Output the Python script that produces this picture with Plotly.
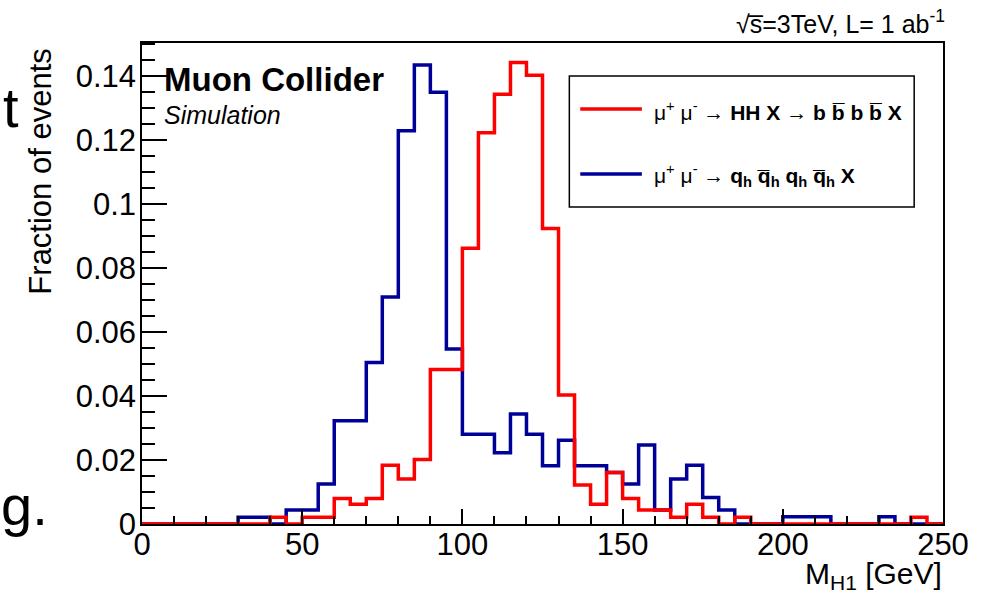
import plotly.graph_objects as go

# Histogram data: fraction of events per 5 GeV bin of M_H1, 0-250 GeV
BIN_WIDTH = 5
bin_edges = list(range(0, 250 + BIN_WIDTH, BIN_WIDTH))

hh_bbbb = [
    0, 0, 0, 0, 0, 0, 0, 0,                      # 0-40
    0.0021, 0, 0.0021, 0.0021,                   # 40-60
    0.008, 0.0062, 0.008, 0.0184,                # 60-80
    0.0141, 0.0202, 0.0483, 0.0483,              # 80-100
    0.0862, 0.1223, 0.1344, 0.1443,              # 100-120
    0.1403, 0.0924, 0.0403, 0.0122,              # 120-140
    0.0062, 0.0161, 0.008, 0.0044,               # 140-160
    0.0044, 0.0021, 0.0062, 0.0021,              # 160-180
    0, 0.0021, 0, 0, 0, 0, 0, 0, 0, 0,           # 180-230
    0, 0, 0.0021, 0,                             # 230-250
]

qh_qqqq = [
    0, 0, 0, 0, 0, 0, 0.0021, 0.0021,            # 0-40
    0, 0.0044, 0.0044, 0.0125,                   # 40-60
    0.0323, 0.0323, 0.0505, 0.071,               # 60-80
    0.123, 0.1435, 0.135, 0.0547,                # 80-100
    0.0281, 0.0281, 0.0223, 0.0344,              # 100-120
    0.0281, 0.0182, 0.0262, 0.0182,              # 120-140
    0.0182, 0.0161, 0.0125, 0.0247,              # 140-160
    0.0044, 0.0141, 0.0184, 0.0083,              # 160-180
    0.0044, 0, 0, 0, 0.0023, 0.0023, 0.0023, 0,  # 180-220
    0, 0, 0.0023, 0, 0, 0,                       # 220-250
]

y_tickvals = [0, 0.02, 0.04, 0.06, 0.08, 0.1, 0.12, 0.14]
y_ticktext = ["0", "0.02", "0.04", "0.06", "0.08", "0.1", "0.12", "0.14"]
x_tickvals = [0, 50, 100, 150, 200, 250]

RED = "#ff0000"
BLUE = "#000099"
FONT = "Liberation Sans"

# plot area in pixels (981x593 canvas)
L, R, T, B = 142, 948, 43, 524


def px(p):
    return (p - L) / (R - L)


def py(p):
    return (B - p) / (B - T)


def steps(values):
    # step outline through the bin edges
    return bin_edges, values + [values[-1]]


fig = go.Figure()

for vals, color in [(qh_qqqq, BLUE), (hh_bbbb, RED)]:
    xs, ys = steps(vals)
    fig.add_trace(go.Scatter(
        x=xs, y=ys, mode="lines", line=dict(color=color, width=3.5, shape="hv"),
        showlegend=False, hoverinfo="skip",
    ))

axis_common = dict(
    showline=True, linecolor="black", linewidth=1.5, mirror=True,
    showgrid=False, zeroline=False, ticks="inside", tickcolor="black",
    tickwidth=1.5, tickfont=dict(family=FONT, size=31, color="black"),
)

fig.update_xaxes(
    range=[0, 250], tickvals=x_tickvals, ticklen=15, ticklabelstandoff=-8,
    minor=dict(ticks="inside", ticklen=8, dtick=10, tickcolor="black", tickwidth=1.5),
    **axis_common,
)
fig.update_yaxes(
    range=[0, 0.1504], tickvals=y_tickvals, ticktext=y_ticktext, ticklen=25,
    ticklabelstandoff=-2,
    minor=dict(ticks="inside", ticklen=13, dtick=0.005, tickcolor="black", tickwidth=1.5),
    **axis_common,
)

annotations = [
    dict(x=px(40), y=py(172), text="Fraction of events", textangle=-90,
         font=dict(family=FONT, size=31), xanchor="center", yanchor="middle"),
    dict(x=px(949), y=py(575), text="M<sub>H1</sub> [GeV]",
         font=dict(family=FONT, size=30), xanchor="right", yanchor="middle"),
    dict(x=px(162), y=py(79), text="<b>Muon Collider</b>",
         font=dict(family=FONT, size=33), xanchor="left", yanchor="middle"),
    dict(x=px(162), y=py(115), text="<i>Simulation</i>",
         font=dict(family=FONT, size=25), xanchor="left", yanchor="middle"),
    dict(x=px(952), y=py(22), text="\u221as\u0305=3TeV, L= 1 ab<sup>-1</sup>",
         font=dict(family=FONT, size=25), xanchor="right", yanchor="middle"),
    dict(x=px(655), y=py(111),
         text="\u03bc<sup>+</sup> \u03bc<sup>-</sup> \u2192 <b>HH X</b> \u2192 "
              "<b>b b\u0305 b b\u0305 X</b>",
         font=dict(family=FONT, size=21), xanchor="left", yanchor="middle"),
    dict(x=px(655), y=py(176),
         text="\u03bc<sup>+</sup> \u03bc<sup>-</sup> \u2192 "
              "<b>q<sub>h</sub> q\u0305<sub>h</sub> q<sub>h</sub> q\u0305<sub>h</sub> X</b>",
         font=dict(family=FONT, size=21), xanchor="left", yanchor="middle"),
    # fragments of the surrounding page text
    dict(x=px(20), y=py(108), text="t", font=dict(family=FONT, size=56),
         xanchor="right", yanchor="middle"),
    dict(x=px(-2), y=py(505), text="g.", font=dict(family=FONT, size=56),
         xanchor="left", yanchor="middle"),
]
for a in annotations:
    a.update(xref="paper", yref="paper", showarrow=False)
    a["font"].setdefault("color", "black")

shapes = [
    dict(type="rect", x0=px(572), x1=px(919), y0=py(76), y1=py(207),
         line=dict(color="black", width=1.5), fillcolor="white", layer="below"),
    dict(type="line", x0=px(583), x1=px(645), y0=py(109), y1=py(109),
         line=dict(color=RED, width=3.5)),
    dict(type="line", x0=px(583), x1=px(645), y0=py(174), y1=py(174),
         line=dict(color=BLUE, width=3.5)),
]
for s in shapes:
    s.update(xref="paper", yref="paper")

fig.update_layout(
    width=981, height=593,
    margin=dict(l=L, r=981 - R, t=T, b=593 - B),
    paper_bgcolor="white", plot_bgcolor="white",
    annotations=annotations, shapes=shapes,
)

# drop the page's default body margin so the figure sits at the window corner
fig.write_html(
    "out.html",
    config={"displayModeBar": False},
    post_script="document.body.style.margin = '0';",
)
